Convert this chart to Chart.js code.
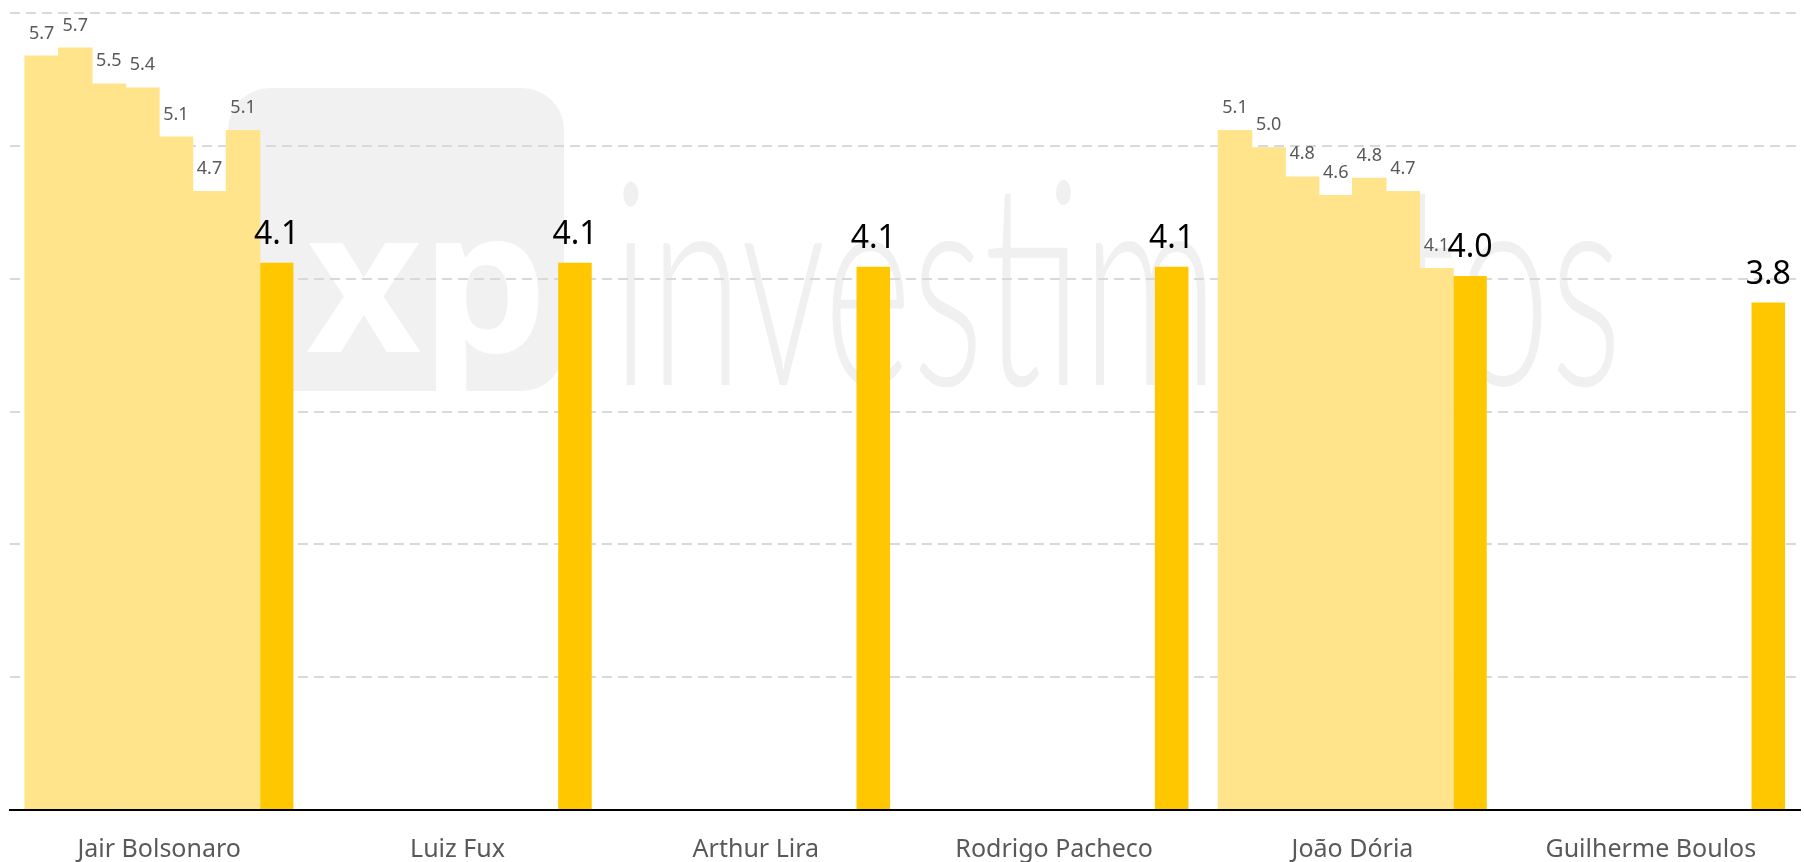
<!DOCTYPE html>
<html>
<head>
<meta charset="utf-8">
<script src="https://cdn.jsdelivr.net/npm/chart.js@4.4.1/dist/chart.umd.min.js"></script>
<style>
  html, body { margin: 0; padding: 0; background: #fff; }
  #wrap { width: 1804px; height: 862px; }
</style>
</head>
<body>
<div id="wrap"><canvas id="myChart"></canvas></div>
<script>
// candidates on the x axis
var candidates = ["Jair Bolsonaro", "Luiz Fux", "Arthur Lira", "Rodrigo Pacheco", "João Dória", "Guilherme Boulos"];
// earlier rounds (light bars), only two candidates have them
var bolsonaroHistory = [5.68, 5.74, 5.47, 5.44, 5.07, 4.66, 5.12];
var doriaHistory = [5.12, 4.99, 4.77, 4.63, 4.76, 4.66, 4.08];
// latest round (dark bars)
var latest = [4.12, 4.12, 4.09, 4.09, 4.02, 3.82];
var yTicks = [0, 1, 2, 3, 4, 5, 6];

var lightColor = "#FFE48C";
var darkColor = "#FFC700";

var datasets = [];
for (var i = 0; i < bolsonaroHistory.length; i++) {
  datasets.push({
    data: candidates.map(function(c) {
      if (c == "Jair Bolsonaro") return bolsonaroHistory[i];
      if (c == "João Dória") return doriaHistory[i];
      return null;
    }),
    backgroundColor: lightColor,
    barPercentage: 1.03,
    isLatest: false
  });
}
datasets.push({ data: latest, backgroundColor: darkColor, isLatest: true });

// xp logo in the background
var watermark = {
  id: "watermark",
  beforeDraw: function(chart) {
    var ctx = chart.ctx;
    ctx.save();
    ctx.fillStyle = "#F1F1F1";
    ctx.beginPath();
    ctx.roundRect(228, 88, 336, 303, 42);
    ctx.fill();
    ctx.fillStyle = "#FFFFFF";
    ctx.font = "bold 200px 'Noto Sans'";
    ctx.textBaseline = "alphabetic";
    ctx.fillText("xp", 306, 352);
    ctx.fillStyle = "#F0F0F0";
    ctx.font = "300 285px Lato";
    var w = ctx.measureText("investimentos").width;
    ctx.translate(612, 385);
    ctx.scale(1010 / w, 1);
    ctx.fillText("investimentos", 0, 0);
    ctx.restore();
  }
};

// value labels above the bars
var valueLabels = {
  id: "valueLabels",
  afterDatasetsDraw: function(chart) {
    var ctx = chart.ctx;
    ctx.save();
    ctx.textAlign = "center";
    ctx.textBaseline = "alphabetic";
    chart.data.datasets.forEach(function(ds, di) {
      var meta = chart.getDatasetMeta(di);
      meta.data.forEach(function(bar, idx) {
        var v = ds.data[idx];
        if (v == null) return;
        var gap = 17;
        if (ds.isLatest) {
          ctx.fillStyle = "#000000";
          ctx.font = "32px 'Noto Sans'";
          gap = 19;
        } else {
          ctx.fillStyle = "#595959";
          ctx.font = "18px 'Noto Sans'";
        }
        ctx.fillText(v.toFixed(1), bar.x, bar.y - gap);
      });
    });
    ctx.restore();
  }
};

new Chart("myChart", {
  type: "bar",
  data: { labels: candidates, datasets: datasets },
  options: {
    responsive: true,
    maintainAspectRatio: false,
    animation: false,
    layout: { padding: { left: 10, right: 4, top: 13, bottom: -27 } },
    datasets: { bar: { categoryPercentage: 0.9, barPercentage: 1.0 } },
    plugins: { legend: { display: false }, tooltip: { enabled: false } },
    scales: {
      x: {
        grid: { display: false, drawTicks: false },
        border: { display: true, color: "#000000", width: 2 },
        ticks: { color: "#595959", font: { family: "Noto Sans", size: 25, lineHeight: 1.0 }, padding: 27 }
      },
      y: {
        min: 0,
        max: 6,
        afterBuildTicks: function(axis) {
          axis.ticks = yTicks.map(function(v) { return { value: v }; });
        },
        ticks: { display: false },
        grid: {
          drawTicks: false,
          lineWidth: 2,
          color: function(c) { return c.tick && c.tick.value == 0 ? "rgba(0,0,0,0)" : "#D9D9D9"; }
        },
        border: { display: false, dash: [10, 6] }
      }
    }
  },
  plugins: [watermark, valueLabels]
});
</script>
</body>
</html>
